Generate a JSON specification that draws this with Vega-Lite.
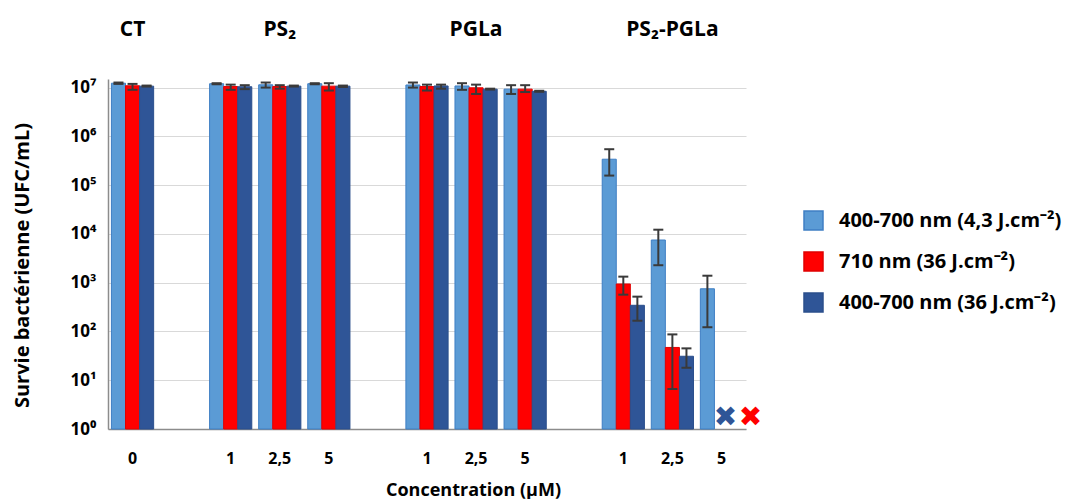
{
  "$schema": "https://vega.github.io/schema/vega-lite/v6.json",
  "width": 638,
  "height": 350,
  "padding": {"left": 12, "top": 0, "right": 0, "bottom": 0},
  "background": "white",
  "config": {
    "font": "Open Sans",
    "view": {"stroke": null},
    "axisY": {
      "gridColor": "#D9D9D9", "gridWidth": 1, "domainColor": "#8C8C8C", "domainWidth": 1.5,
      "ticks": false, "tickSize": 0, "labelFontSize": 17, "labelFontWeight": "bold", "labelColor": "#000000",
      "labelPadding": 12, "titleFontSize": 20, "titleFontWeight": "bold", "titleColor": "#000000",
      "titlePadding": 22, "minExtent": 54, "maxExtent": 54, "titleY": 186
    },
    "axisX": {
      "grid": false, "domainColor": "#8C8C8C", "domainWidth": 1.5, "ticks": false, "tickSize": 0,
      "labelFontSize": 16, "labelFontWeight": "bold", "labelColor": "#000000", "labelAngle": 0,
      "titleFontSize": 18, "titleFontWeight": "bold", "titleColor": "#000000"
    },
    "legend": {
      "labelFontSize": 20, "labelFontWeight": "bold", "labelColor": "#000000", "labelLimit": 400,
      "symbolType": "square", "symbolSize": 361, "symbolStrokeWidth": 1.5, "rowPadding": 16, "labelOffset": 15
    }
  },
  "datasets": {
    "bars": [
      {"slot": "CT|0", "series": "400-700 nm (4,3 J.cm⁻²)", "value": 12300000, "lo": 11900000, "hi": 12700000},
      {"slot": "CT|0", "series": "710 nm (36 J.cm⁻²)", "value": 10900000, "lo": 9000000, "hi": 11900000},
      {"slot": "CT|0", "series": "400-700 nm (36 J.cm⁻²)", "value": 10700000, "lo": 10500000, "hi": 11000000},
      {"slot": "PS2|1", "series": "400-700 nm (4,3 J.cm⁻²)", "value": 12000000, "lo": 11700000, "hi": 12300000},
      {"slot": "PS2|1", "series": "710 nm (36 J.cm⁻²)", "value": 10500000, "lo": 9000000, "hi": 11500000},
      {"slot": "PS2|1", "series": "400-700 nm (36 J.cm⁻²)", "value": 10400000, "lo": 9300000, "hi": 11200000},
      {"slot": "PS2|2,5", "series": "400-700 nm (4,3 J.cm⁻²)", "value": 11400000, "lo": 10000000, "hi": 12700000},
      {"slot": "PS2|2,5", "series": "710 nm (36 J.cm⁻²)", "value": 10500000, "lo": 9500000, "hi": 11200000},
      {"slot": "PS2|2,5", "series": "400-700 nm (36 J.cm⁻²)", "value": 10700000, "lo": 10500000, "hi": 11000000},
      {"slot": "PS2|5", "series": "400-700 nm (4,3 J.cm⁻²)", "value": 12000000, "lo": 11700000, "hi": 12300000},
      {"slot": "PS2|5", "series": "710 nm (36 J.cm⁻²)", "value": 10700000, "lo": 8700000, "hi": 12300000},
      {"slot": "PS2|5", "series": "400-700 nm (36 J.cm⁻²)", "value": 10700000, "lo": 10300000, "hi": 11000000},
      {"slot": "PGLa|1", "series": "400-700 nm (4,3 J.cm⁻²)", "value": 11300000, "lo": 10000000, "hi": 12700000},
      {"slot": "PGLa|1", "series": "710 nm (36 J.cm⁻²)", "value": 10500000, "lo": 8700000, "hi": 11500000},
      {"slot": "PGLa|1", "series": "400-700 nm (36 J.cm⁻²)", "value": 10800000, "lo": 9500000, "hi": 11500000},
      {"slot": "PGLa|2,5", "series": "400-700 nm (4,3 J.cm⁻²)", "value": 10800000, "lo": 9000000, "hi": 12300000},
      {"slot": "PGLa|2,5", "series": "710 nm (36 J.cm⁻²)", "value": 9900000, "lo": 7400000, "hi": 11500000},
      {"slot": "PGLa|2,5", "series": "400-700 nm (36 J.cm⁻²)", "value": 9300000, "lo": 9100000, "hi": 9500000},
      {"slot": "PGLa|5", "series": "400-700 nm (4,3 J.cm⁻²)", "value": 9300000, "lo": 7400000, "hi": 11200000},
      {"slot": "PGLa|5", "series": "710 nm (36 J.cm⁻²)", "value": 9300000, "lo": 8100000, "hi": 11200000},
      {"slot": "PGLa|5", "series": "400-700 nm (36 J.cm⁻²)", "value": 8400000, "lo": 8200000, "hi": 8600000},
      {"slot": "PS2-PGLa|1", "series": "400-700 nm (4,3 J.cm⁻²)", "value": 340000, "lo": 157000, "hi": 545000},
      {"slot": "PS2-PGLa|1", "series": "710 nm (36 J.cm⁻²)", "value": 940, "lo": 568, "hi": 1330},
      {"slot": "PS2-PGLa|1", "series": "400-700 nm (36 J.cm⁻²)", "value": 344, "lo": 166, "hi": 517},
      {"slot": "PS2-PGLa|2,5", "series": "400-700 nm (4,3 J.cm⁻²)", "value": 7500, "lo": 2280, "hi": 12200},
      {"slot": "PS2-PGLa|2,5", "series": "710 nm (36 J.cm⁻²)", "value": 47, "lo": 6.6, "hi": 87},
      {"slot": "PS2-PGLa|2,5", "series": "400-700 nm (36 J.cm⁻²)", "value": 31, "lo": 18, "hi": 45},
      {"slot": "PS2-PGLa|5", "series": "400-700 nm (4,3 J.cm⁻²)", "value": 750, "lo": 122, "hi": 1390}
    ],
    "crosses": [
      {"slot": "PS2-PGLa|5", "series": "400-700 nm (36 J.cm⁻²)", "value": 1.7},
      {"slot": "PS2-PGLa|5", "series": "710 nm (36 J.cm⁻²)", "value": 1.7}
    ]
  },
  "resolve": {"axis": {"x": "independent"}},
  "layer": [
    {
      "data": {"name": "bars"},
      "mark": {"type": "bar", "strokeWidth": 1},
      "encoding": {
        "x": {"field": "slot", "type": "nominal", "title": "Concentration (µM)",
          "scale": {"type": "band", "domain": ["CT|0","g1|","PS2|1","PS2|2,5","PS2|5","g2|","PGLa|1","PGLa|2,5","PGLa|5","g3|","PS2-PGLa|1","PS2-PGLa|2,5","PS2-PGLa|5"], "paddingInner": 0.14, "paddingOuter": 0.07},
          "axis": {"orient": "bottom", "labelExpr": "split(datum.value, '|')[1]", "labelPadding": 21, "titlePadding": 15, "titleX": 365, "titleAlign": "center"}},
        "xOffset": {"field": "series", "type": "nominal", "scale": {"domain": ["400-700 nm (4,3 J.cm⁻²)", "710 nm (36 J.cm⁻²)", "400-700 nm (36 J.cm⁻²)"], "paddingInner": 0, "paddingOuter": 0}},
        "y": {"field": "value", "type": "quantitative", "title": "Survie bactérienne (UFC/mL)",
          "scale": {"type": "log", "domain": [1, 15000000], "nice": false},
          "axis": {"values": [1,10,100,1000,10000,100000,1000000,10000000], "labelExpr": "'10' + ['⁰','¹','²','³','⁴','⁵','⁶','⁷'][round(log(datum.value)/LN10)]"}},
        "y2": {"datum": 1},
        "color": {"field": "series", "type": "nominal",
          "scale": {"domain": ["400-700 nm (4,3 J.cm⁻²)", "710 nm (36 J.cm⁻²)", "400-700 nm (36 J.cm⁻²)"], "range": ["#5B9BD5", "#FF0000", "#2F5597"]},
          "legend": {"title": null, "orient": "none", "legendX": 695, "legendY": 131}},
        "stroke": {"field": "series", "type": "nominal",
          "scale": {"domain": ["400-700 nm (4,3 J.cm⁻²)", "710 nm (36 J.cm⁻²)", "400-700 nm (36 J.cm⁻²)"], "range": ["#3F7FC4", "#E00000", "#2B4F8C"]},
          "legend": {"title": null, "orient": "none", "legendX": 695, "legendY": 131}}
      }
    },
    {
      "data": {"name": "bars"},
      "mark": {"type": "rule", "strokeWidth": 2, "color": "#3A3A3A"},
      "encoding": {
        "x": {"field": "slot", "type": "nominal", "title": null,
          "axis": {"orient": "top", "domain": false, "ticks": false, "labelFontSize": 21, "labelPadding": 44, "labelBaseline": "alphabetic", "minExtent": 79, "maxExtent": 79,
            "labelExpr": "datum.value == 'CT|0' ? 'CT' : datum.value == 'PS2|2,5' ? 'PS₂' : datum.value == 'PGLa|2,5' ? 'PGLa' : datum.value == 'PS2-PGLa|2,5' ? 'PS₂-PGLa' : ''"}},
        "xOffset": {"field": "series", "type": "nominal"},
        "y": {"field": "lo", "type": "quantitative", "title": "Survie bactérienne (UFC/mL)",
          "axis": {"values": [1,10,100,1000,10000,100000,1000000,10000000], "labelExpr": "'10' + ['⁰','¹','²','³','⁴','⁵','⁶','⁷'][round(log(datum.value)/LN10)]"}},
        "y2": {"field": "hi"}
      }
    },
    {
      "data": {"name": "bars"},
      "mark": {"type": "tick", "thickness": 2, "size": 10, "color": "#3A3A3A", "opacity": 1},
      "encoding": {
        "x": {"field": "slot", "type": "nominal", "axis": null},
        "xOffset": {"field": "series", "type": "nominal"},
        "y": {"field": "lo", "type": "quantitative", "title": "Survie bactérienne (UFC/mL)",
          "axis": {"values": [1,10,100,1000,10000,100000,1000000,10000000], "labelExpr": "'10' + ['⁰','¹','²','³','⁴','⁵','⁶','⁷'][round(log(datum.value)/LN10)]"}}
      }
    },
    {
      "data": {"name": "bars"},
      "mark": {"type": "tick", "thickness": 2, "size": 10, "color": "#3A3A3A", "opacity": 1},
      "encoding": {
        "x": {"field": "slot", "type": "nominal", "axis": null},
        "xOffset": {"field": "series", "type": "nominal"},
        "y": {"field": "hi", "type": "quantitative", "title": "Survie bactérienne (UFC/mL)",
          "axis": {"values": [1,10,100,1000,10000,100000,1000000,10000000], "labelExpr": "'10' + ['⁰','¹','²','³','⁴','⁵','⁶','⁷'][round(log(datum.value)/LN10)]"}}
      }
    },
    {
      "data": {"name": "crosses"},
      "transform": [{"filter": "datum.series == '400-700 nm (36 J.cm⁻²)'"}],
      "mark": {"type": "text", "text": "✖", "font": "DejaVu Sans", "fontSize": 28, "align": "center", "baseline": "middle", "dx": -10},
      "encoding": {
        "x": {"field": "slot", "type": "nominal", "axis": null},
        "xOffset": {"datum": "400-700 nm (36 J.cm⁻²)"},
        "y": {"field": "value", "type": "quantitative", "title": "Survie bactérienne (UFC/mL)",
          "axis": {"values": [1,10,100,1000,10000,100000,1000000,10000000], "labelExpr": "'10' + ['⁰','¹','²','³','⁴','⁵','⁶','⁷'][round(log(datum.value)/LN10)]"}},
        "color": {"field": "series", "type": "nominal"}
      }
    },
    {
      "data": {"name": "crosses"},
      "transform": [{"filter": "datum.series == '710 nm (36 J.cm⁻²)'"}],
      "mark": {"type": "text", "text": "✖", "font": "DejaVu Sans", "fontSize": 28, "align": "center", "baseline": "middle", "dx": 15},
      "encoding": {
        "x": {"field": "slot", "type": "nominal", "axis": null},
        "xOffset": {"datum": "400-700 nm (36 J.cm⁻²)"},
        "y": {"field": "value", "type": "quantitative", "title": "Survie bactérienne (UFC/mL)",
          "axis": {"values": [1,10,100,1000,10000,100000,1000000,10000000], "labelExpr": "'10' + ['⁰','¹','²','³','⁴','⁵','⁶','⁷'][round(log(datum.value)/LN10)]"}},
        "color": {"field": "series", "type": "nominal"}
      }
    }
  ]
}
